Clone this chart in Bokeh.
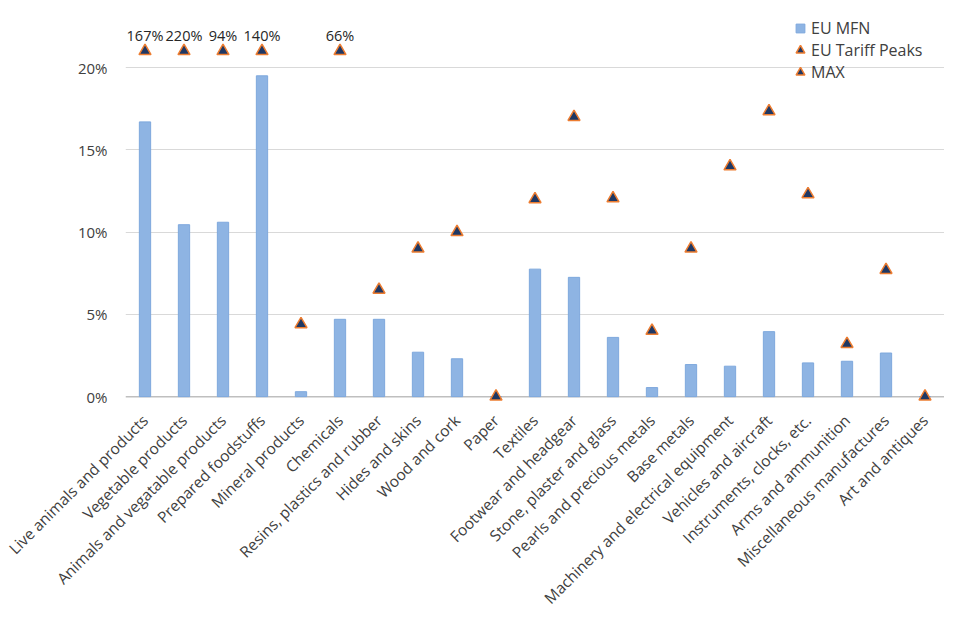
import math
from bokeh.plotting import figure
from bokeh.models import FixedTicker, Legend, LegendItem, Span
from bokeh.core.properties import value
from bokeh.embed import file_html
from bokeh.resources import INLINE

# ---------------- data ----------------
categories = [
    "Live animals and products",
    "Vegetable products",
    "Animals and vegatable products",
    "Prepared foodstuffs",
    "Mineral products",
    "Chemicals",
    "Resins, plastics and rubber",
    "Hides and skins",
    "Wood and cork",
    "Paper",
    "Textiles",
    "Footwear and headgear",
    "Stone, plaster and glass",
    "Pearls and precious metals",
    "Base metals",
    "Machinery and electrical equipment",
    "Vehicles and aircraft",
    "Instruments, clocks, etc.",
    "Arms and ammunition",
    "Miscellaneous manufactures",
    "Art and antiques",
]

# EU MFN average tariff (%)
eu_mfn = [16.7, 10.45, 10.6, 19.5, 0.3, 4.7, 4.7, 2.7, 2.3, 0.0,
          7.75, 7.25, 3.6, 0.55, 1.95, 1.85, 3.95, 2.05, 2.15, 2.65, 0.0]

# EU tariff peaks (%), NaN where the peak is shown by the MAX series
nan = float("nan")
eu_peaks = [nan, nan, nan, nan, 4.4, nan, 6.5, 9.0, 10.0, 0.0,
            12.0, 17.0, 12.05, 4.0, 9.0, 14.0, 17.35, 12.3, 3.2, 7.7, 0.0]

# Peaks beyond the axis: drawn at a cap and labelled with the real value
max_categories = ["Live animals and products", "Vegetable products",
                  "Animals and vegatable products", "Prepared foodstuffs",
                  "Chemicals"]
max_values = [167, 220, 94, 140, 66]
max_cap = 21
max_plot = [max_cap] * len(max_categories)
max_labels = [f"{v}%" for v in max_values]

y_ticks = [0, 5, 10, 15, 20]
y_tick_labels = ["0%", "5%", "10%", "15%", "20%"]

# ---------------- style ----------------
FONT = "Open Sans"
TEXT = "#404040"
BAR_FILL = "#8EB4E3"
BAR_LINE = "#7EA8DD"
TRI_FILL = "#1F3864"
TRI_LINE = "#ED7D31"

p = figure(
    x_range=categories, y_range=(-0.6, 23.47),
    width=944, height=624,
    output_backend="svg", toolbar_location=None,
    min_border_left=125, min_border_right=0,
    min_border_top=10, min_border_bottom=218,
)
p.outline_line_color = None
p.background_fill_color = "white"
p.border_fill_color = "white"

# category axis line at 0 %
p.add_layout(Span(location=0, dimension="width", line_color="#BFBFBF",
                  line_width=1.5, level="underlay"))

bars = p.vbar(x=categories, top=eu_mfn, width=0.29,
              fill_color=BAR_FILL, line_color=BAR_LINE, line_width=1)

peaks = p.scatter(x=categories, y=eu_peaks, marker="triangle", size=12,
                  fill_color=TRI_FILL, line_color=TRI_LINE, line_width=1.5)

maxr = p.scatter(x=max_categories, y=max_plot, marker="triangle", size=12,
                 fill_color=TRI_FILL, line_color=TRI_LINE, line_width=1.5)

p.text(x=max_categories, y=max_plot, text=max_labels,
       text_align="center", text_baseline="middle", y_offset=-16,
       text_font=value(FONT), text_font_size="14.5px", text_color="#262626")

# legend swatch for the bar series (a non-plotted NaN point, legend only)
mfn_key = p.scatter(x=categories[:1], y=[nan], marker="square", size=9,
                    fill_color=BAR_FILL, line_color=BAR_LINE)

# axes
p.yaxis.ticker = FixedTicker(ticks=y_ticks)
p.yaxis.major_label_overrides = dict(zip(y_ticks, y_tick_labels))
p.yaxis.axis_line_color = None
p.yaxis.major_tick_line_color = None
p.yaxis.minor_tick_line_color = None
p.yaxis.major_label_standoff = 12
p.yaxis.major_label_text_font = FONT
p.yaxis.major_label_text_font_size = "15px"
p.yaxis.major_label_text_color = TEXT

p.xaxis.major_label_orientation = math.pi / 4
p.xaxis.axis_line_color = None
p.xaxis.major_tick_line_color = None
p.xaxis.minor_tick_line_color = None
p.xaxis.major_label_standoff = 5
p.xaxis.major_label_text_font = FONT
p.xaxis.major_label_text_font_size = "15.5px"
p.xaxis.major_label_text_color = TEXT

p.xgrid.grid_line_color = None
p.ygrid.ticker = FixedTicker(ticks=y_ticks[1:])
p.ygrid.grid_line_color = "#D9D9D9"
p.ygrid.grid_line_width = 1

# legend
leg = Legend(items=[LegendItem(label="EU MFN", renderers=[mfn_key]),
                    LegendItem(label="EU Tariff Peaks", renderers=[peaks]),
                    LegendItem(label="MAX", renderers=[maxr])],
             location=(664, 323), glyph_width=22, glyph_height=22,
             label_height=22, label_standoff=0,
             padding=0, margin=0, spacing=0, border_line_color=None,
             background_fill_alpha=0, label_text_font=FONT,
             label_text_font_size="16px", label_text_color=TEXT)
p.add_layout(leg)

open("out.html", "w").write(file_html(p, INLINE))
